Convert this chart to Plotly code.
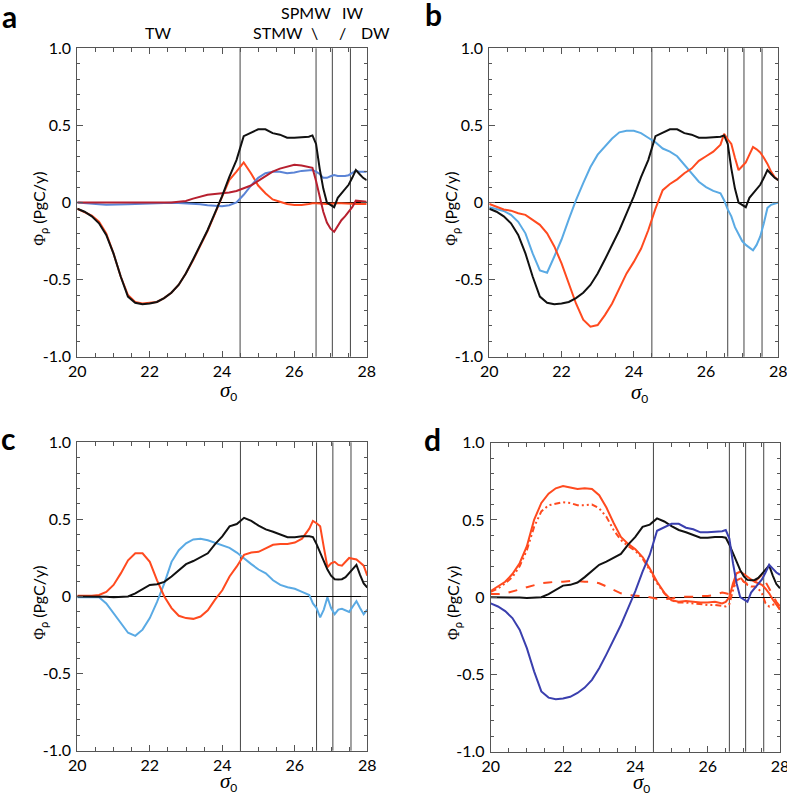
import plotly.graph_objects as go

# ---------------- data ----------------
sigma = [20.0, 20.2, 20.4, 20.6, 20.8, 21.0, 21.2, 21.4, 21.6, 21.8,
         22.0, 22.2, 22.4, 22.6, 22.8, 23.0, 23.2, 23.4, 23.6, 23.8,
         24.0, 24.2, 24.4, 24.6, 24.8, 25.0, 25.2, 25.4, 25.6, 25.8,
         26.0, 26.2, 26.4, 26.5, 26.6, 26.7, 26.8, 26.9, 27.0, 27.1,
         27.2, 27.3, 27.4, 27.5, 27.6, 27.7, 27.8, 27.9, 28.0]

total_a = [-0.04, -0.06, -0.09, -0.135, -0.21, -0.33, -0.48, -0.61, -0.65, -0.66,
           -0.655, -0.645, -0.62, -0.585, -0.535, -0.46, -0.37, -0.275, -0.18, -0.07,
           0.04, 0.165, 0.275, 0.43, 0.455, 0.475, 0.475, 0.45, 0.44, 0.42,
           0.42, 0.425, 0.427, 0.435, 0.38, 0.22, 0.09, 0.0, -0.015, -0.03,
           0.03, 0.06, 0.09, 0.115, 0.16, 0.21, 0.185, 0.16, 0.145]

orange_a = [-0.04, -0.06, -0.085, -0.125, -0.2, -0.33, -0.48, -0.6, -0.645, -0.655,
            -0.65, -0.645, -0.62, -0.585, -0.535, -0.46, -0.375, -0.28, -0.185, -0.075,
            0.04, 0.145, 0.2, 0.26, 0.19, 0.11, 0.06, 0.02, 0.005, -0.01,
            -0.016, -0.016, -0.01, -0.005, -0.005, -0.008, -0.01, -0.01, -0.008, -0.005,
            -0.005, -0.005, -0.005, -0.005, -0.008, -0.01, -0.01, -0.01, -0.01]

blue_a = [0.0, -0.005, -0.01, -0.012, -0.015, -0.015, -0.012, -0.012, -0.01, -0.008,
          -0.005, -0.003, -0.002, -0.002, -0.003, -0.005, -0.008, -0.012, -0.018, -0.022,
          -0.025, -0.018, 0.0, 0.05, 0.11, 0.16, 0.19, 0.2, 0.2, 0.19,
          0.195, 0.205, 0.21, 0.21, 0.2, 0.185, 0.16, 0.16, 0.17, 0.178,
          0.172, 0.17, 0.172, 0.177, 0.19, 0.206, 0.2, 0.2, 0.2]

darkred_a = [0.0, 0.0, 0.0, 0.0, 0.0, 0.0, 0.0, 0.0, 0.0, 0.0,
             0.0, 0.0, 0.0, 0.0, 0.005, 0.01, 0.025, 0.04, 0.05, 0.055,
             0.06, 0.065, 0.075, 0.09, 0.11, 0.14, 0.17, 0.2, 0.22, 0.235,
             0.245, 0.24, 0.232, 0.225, 0.14, 0.04, -0.06, -0.13, -0.17, -0.19,
             -0.15, -0.115, -0.09, -0.06, -0.03, 0.012, 0.01, 0.008, 0.005]

lightblue_b = [-0.03, -0.045, -0.055, -0.08, -0.125, -0.2, -0.33, -0.44, -0.455, -0.35,
               -0.24, -0.11, 0.015, 0.125, 0.23, 0.31, 0.36, 0.415, 0.455, 0.465,
               0.465, 0.45, 0.42, 0.39, 0.35, 0.33, 0.3, 0.245, 0.19, 0.135,
               0.1, 0.075, 0.06, 0.015, -0.045, -0.09, -0.16, -0.21, -0.25, -0.275,
               -0.29, -0.31, -0.275, -0.22, -0.135, -0.035, -0.015, -0.005, 0.0]

orange_b = [-0.01, -0.027, -0.045, -0.053, -0.07, -0.08, -0.115, -0.145, -0.2, -0.285,
            -0.395, -0.525, -0.655, -0.76, -0.805, -0.795, -0.73, -0.655, -0.555, -0.46,
            -0.385, -0.3, -0.18, -0.04, 0.08, 0.12, 0.15, 0.19, 0.22, 0.27,
            0.3, 0.33, 0.375, 0.445, 0.41, 0.38, 0.29, 0.21, 0.235, 0.26,
            0.31, 0.36, 0.345, 0.325, 0.29, 0.25, 0.2, 0.165, 0.145]

total_c = [0.0, 0.0, 0.0, 0.0, -0.002, -0.005, -0.002, 0.0, 0.02, 0.045,
           0.075, 0.08, 0.095, 0.13, 0.17, 0.21, 0.23, 0.255, 0.28, 0.34,
           0.39, 0.455, 0.47, 0.51, 0.49, 0.46, 0.435, 0.42, 0.405, 0.385,
           0.385, 0.39, 0.39, 0.385, 0.34, 0.285, 0.225, 0.175, 0.135, 0.112,
           0.11, 0.112, 0.125, 0.15, 0.178, 0.205, 0.14, 0.085, 0.058]

orange_c = [0.005, 0.005, 0.005, 0.01, 0.03, 0.075, 0.15, 0.235, 0.28, 0.28,
            0.225, 0.105, 0.0, -0.075, -0.125, -0.14, -0.145, -0.13, -0.09, -0.02,
            0.04, 0.13, 0.195, 0.27, 0.285, 0.29, 0.31, 0.335, 0.34, 0.34,
            0.35, 0.375, 0.44, 0.49, 0.475, 0.455, 0.32, 0.19, 0.215, 0.225,
            0.205, 0.2, 0.225, 0.25, 0.245, 0.24, 0.22, 0.2, 0.135]

lightblue_c = [-0.005, -0.005, -0.005, -0.005, -0.045, -0.11, -0.175, -0.235, -0.255, -0.215,
               -0.14, -0.035, 0.085, 0.225, 0.3, 0.345, 0.37, 0.375, 0.365, 0.35,
               0.335, 0.315, 0.285, 0.245, 0.21, 0.175, 0.15, 0.105, 0.075, 0.06,
               0.05, 0.03, 0.01, -0.045, -0.075, -0.135, -0.085, -0.005, -0.075, -0.115,
               -0.085, -0.08, -0.09, -0.1, -0.065, -0.03, -0.075, -0.115, -0.085]

orange_d = [0.04, 0.07, 0.1, 0.15, 0.22, 0.33, 0.5, 0.61, 0.67, 0.705,
            0.72, 0.71, 0.7, 0.705, 0.7, 0.66, 0.58, 0.48, 0.39, 0.345,
            0.31, 0.26, 0.185, 0.1, 0.03, -0.02, -0.03, -0.025, -0.03, -0.035,
            -0.035, -0.03, -0.04, -0.03, 0.0, 0.09, 0.155, 0.165, 0.15, 0.13,
            0.115, 0.1, 0.09, 0.08, 0.055, 0.025, -0.015, -0.05, -0.08]

orange_dashdot_d = [0.035, 0.055, 0.09, 0.13, 0.2, 0.305, 0.455, 0.555, 0.595, 0.605,
                    0.615, 0.61, 0.595, 0.595, 0.6, 0.575, 0.52, 0.435, 0.37, 0.33,
                    0.3, 0.25, 0.175, 0.09, 0.025, -0.02, -0.035, -0.035, -0.04, -0.045,
                    -0.05, -0.05, -0.055, -0.06, -0.045, 0.045, 0.11, 0.12, 0.1, 0.08,
                    0.07, 0.07, 0.055, 0.025, -0.04, -0.06, -0.05, -0.04, -0.08]

orange_dash_d = [0.02, 0.02, 0.025, 0.035, 0.05, 0.065, 0.08, 0.09, 0.095, 0.1,
                 0.1, 0.105, 0.105, 0.1, 0.1, 0.09, 0.07, 0.045, 0.025, 0.015,
                 0.01, 0.008, 0.0, -0.01, -0.012, -0.008, 0.0, 0.003, 0.003, 0.008,
                 0.008, 0.015, 0.03, 0.025, 0.02, 0.055, 0.145, 0.13, 0.1, 0.085,
                 0.09, 0.1, 0.12, 0.145, 0.1, 0.055, 0.02, -0.03, -0.06]

water_mass_bounds = [24.5, 26.6, 27.05, 27.55]
x_ticks = [20, 22, 24, 26, 28]
y_ticks = [-1.0, -0.5, 0.0, 0.5, 1.0]
y_tick_text = ["-1.0", "-0.5", "0", "0.5", "1.0"]
panel_letters = ["a", "b", "c", "d"]

for arr in [total_a, orange_a, blue_a, darkred_a, lightblue_b, orange_b, total_c,
            orange_c, lightblue_c, orange_d, orange_dashdot_d, orange_dash_d]:
    assert len(arr) == len(sigma), len(arr)

# ---------------- styling ----------------
W, H = 787, 795
FONT = "Lato"
BLACK = "#111111"
ORANGE = "#ff4a1f"
DARKRED = "#b7202f"
BLUE = "#5b84d6"
LIGHTBLUE = "#5aaae4"
NAVY = "#3a3fae"
AXC = "#555555"

# plot areas in pixels: (left, right, top, bottom)
boxes = [(77.3, 366.7, 48.3, 356.7),
         (489.3, 778.3, 48.3, 356.7),
         (77.3, 367.3, 442.3, 750.7),
         (490.7, 780.0, 442.7, 751.7)]
sigma_title_offset = [34, 36, 31, 31]

def fx(p):
    return p / W

def fy(p):
    return 1 - p / H

series = [
    [(orange_a, ORANGE, "solid"), (blue_a, BLUE, "solid"), (darkred_a, DARKRED, "solid"),
     (total_a, BLACK, "solid")],
    [(lightblue_b, LIGHTBLUE, "solid"), (orange_b, ORANGE, "solid"), (total_a, BLACK, "solid")],
    [(lightblue_c, LIGHTBLUE, "solid"), (orange_c, ORANGE, "solid"), (total_c, BLACK, "solid")],
    [(orange_dash_d, ORANGE, "dash"), (orange_dashdot_d, ORANGE, "6px,3px,2px,3px,2px,3px"),
     (orange_d, ORANGE, "solid"), (total_c, BLACK, "solid"), (total_a, NAVY, "solid")],
]

fig = go.Figure()
layout = dict(width=W, height=H, margin=dict(l=0, r=0, t=0, b=0, autoexpand=False),
              paper_bgcolor="white", plot_bgcolor="white", showlegend=False,
              font=dict(family=FONT, size=16, color="black"))
annotations = []
shapes = []

for i, (box, lines) in enumerate(zip(boxes, series)):
    n = i + 1
    xa = "xaxis" if n == 1 else f"xaxis{n}"
    ya = "yaxis" if n == 1 else f"yaxis{n}"
    xr = "x" if n == 1 else f"x{n}"
    yr = "y" if n == 1 else f"y{n}"
    left, right, top, bottom = box
    layout[xa] = dict(domain=[fx(left), fx(right)], anchor=yr, range=[20, 28],
                      tickvals=x_ticks, ticks="inside", ticklen=6, tickcolor=AXC,
                      showline=True, linecolor=AXC, linewidth=1, mirror="ticks",
                      showgrid=False, zeroline=False, automargin=False,
                      ticklabeloverflow="allow",
                      minor=dict(dtick=0.5, tick0=20, ticks="inside", ticklen=4, tickcolor=AXC, showgrid=False),
                      tickfont=dict(family=FONT, size=16, color="black"))
    layout[ya] = dict(domain=[fy(bottom), fy(top)], anchor=xr, range=[-1, 1],
                      tickvals=y_ticks, ticktext=y_tick_text, ticks="inside", ticklen=6,
                      tickcolor=AXC, showline=True, linecolor=AXC, linewidth=1, mirror="ticks",
                      showgrid=False, zeroline=True, zerolinecolor="black", zerolinewidth=1,
                      automargin=False, ticklabelstandoff=2,
                      minor=dict(dtick=0.1, tick0=0, ticks="inside", ticklen=3, tickcolor=AXC, showgrid=False),
                      tickfont=dict(family=FONT, size=16, color="black"))
    for vals, col, dash in lines:
        fig.add_trace(go.Scatter(x=sigma, y=vals, mode="lines", xaxis=xr, yaxis=yr,
                                 line=dict(color=col, width=2, dash=dash), hoverinfo="skip"))
    for b in water_mass_bounds:
        shapes.append(dict(type="line", xref=xr, yref=f"{yr} domain", x0=b, x1=b, y0=0, y1=1,
                           line=dict(color="#444444", width=1), layer="below"))
    cx = (left + right) / 2
    cy = (top + bottom) / 2
    annotations.append(dict(
        x=fx(left - 38), y=fy(cy + 6), xref="paper", yref="paper", textangle=-90,
        text="<span style='font-family:Liberation Serif'>Φ</span><sub>ρ</sub> (PgC/y)",
        showarrow=False, xanchor="center", yanchor="middle",
        font=dict(family=FONT, size=16, color="black")))
    annotations.append(dict(
        x=fx(cx + 6), y=fy(bottom + sigma_title_offset[i]), xref="paper", yref="paper",
        text="<i>σ</i><sub><span style='font-family:Lato;font-style:normal;font-size:12px'>0</span></sub>",
        showarrow=False, xanchor="center", yanchor="middle",
        font=dict(family="Liberation Serif", size=21, color="black")))

letter_pos = [(9, 16), (433, 14), (8, 438), (432, 439)]
for lt, (px, py) in zip(panel_letters, letter_pos):
    annotations.append(dict(x=fx(px), y=fy(py), xref="paper", yref="paper", text=f"<b>{lt}</b>",
                            showarrow=False, xanchor="center", yanchor="middle",
                            font=dict(family=FONT, size=30, color="black")))

wm_labels = [("TW", 158, 33), ("STMW", 278, 33), ("\\", 314, 33), ("/", 342, 33),
             ("DW", 375, 33), ("SPMW", 306, 13), ("IW", 352, 13)]
for t, px, py in wm_labels:
    annotations.append(dict(x=fx(px), y=fy(py), xref="paper", yref="paper", text=t,
                            showarrow=False, xanchor="center", yanchor="middle",
                            font=dict(family=FONT, size=16, color="black")))

layout["annotations"] = annotations
layout["shapes"] = shapes
fig.update_layout(**layout)
fig.write_html("out.html", config={"displayModeBar": False, "staticPlot": True})

# remove the default page margin so the figure sits at the window's top-left corner
with open("out.html", "r", encoding="utf-8") as f:
    html = f.read()
html = html.replace("<head>", "<head><style>html,body{margin:0;padding:0;overflow:hidden;}</style>", 1)
with open("out.html", "w", encoding="utf-8") as f:
    f.write(html)
